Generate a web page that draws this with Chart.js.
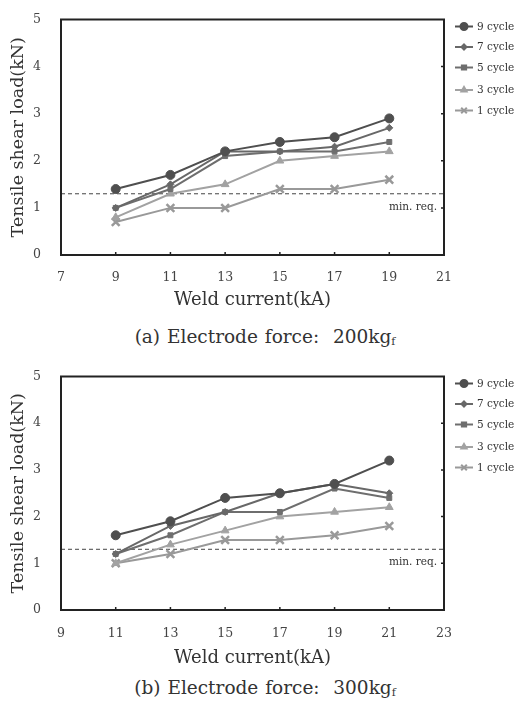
<!DOCTYPE html>
<html>
<head>
<meta charset="utf-8">
<script src="https://cdn.jsdelivr.net/npm/chart.js@4.4.0/dist/chart.umd.min.js"></script>
<style>
  body { margin: 0; background: #fff; }
  #wrap { position: relative; width: 524px; height: 708px; overflow: hidden; }
  canvas { position: absolute; left: 0; }
  .caption {
    position: absolute; left: 0; width: 530px; text-align: center;
    font-family: "DejaVu Serif", serif; font-size: 18.5px; color: #333;
    line-height: 20px; white-space: nowrap; word-spacing: 1px;
  }
  .caption sub { font-size: 11px; vertical-align: -2px; }
</style>
</head>
<body>
<div id="wrap">
  <canvas id="chartA" width="524" height="315" style="top:0"></canvas>
  <div class="caption" style="top:327px">(a) Electrode force:&nbsp; 200kg<sub>f</sub></div>
  <canvas id="chartB" width="524" height="315" style="top:357px"></canvas>
  <div class="caption" style="top:678px">(b) Electrode force:&nbsp; 300kg<sub>f</sub></div>
</div>
<script>
// series labels
const cycles = ["9 cycle", "7 cycle", "5 cycle", "3 cycle", "1 cycle"];

// (a) electrode force 200kgf
const currentA = [9, 11, 13, 15, 17, 19];
const a9 = [1.4, 1.7, 2.2, 2.4, 2.5, 2.9];
const a7 = [1.0, 1.5, 2.2, 2.2, 2.3, 2.7];
const a5 = [1.0, 1.4, 2.1, 2.2, 2.2, 2.4];
const a3 = [0.8, 1.3, 1.5, 2.0, 2.1, 2.2];
const a1 = [0.7, 1.0, 1.0, 1.4, 1.4, 1.6];

// (b) electrode force 300kgf
const currentB = [11, 13, 15, 17, 19, 21];
const b9 = [1.6, 1.9, 2.4, 2.5, 2.7, 3.2];
const b7 = [1.2, 1.8, 2.1, 2.5, 2.7, 2.5];
const b5 = [1.2, 1.6, 2.1, 2.1, 2.6, 2.4];
const b3 = [1.0, 1.4, 1.7, 2.0, 2.1, 2.2];
const b1 = [1.0, 1.2, 1.5, 1.5, 1.6, 1.8];

const minReq = 1.3;
const xRangeA = [7, 21];
const xRangeB = [9, 23];
const yTicks = [0, 1, 2, 3, 4, 5];

const FONT = "'DejaVu Serif', serif";
Chart.defaults.font.family = FONT;
Chart.defaults.color = "#444";

const styles = [
  { color: "#4f4f4f", point: "circle", r: 4.5, lr: 3.5 },
  { color: "#686868", point: "rectRot", r: 3.5, lr: 2.5 },
  { color: "#6e6e6e", point: "rect", r: 3.5, lr: 3 },
  { color: "#a2a2a2", point: "triangle", r: 4.5, lr: 3 },
  { color: "#999999", point: "crossRot", r: 5.5, lr: 4 }
];

function toPoints(xs, ys) {
  return xs.map((x, i) => ({ x: x, y: ys[i] }));
}

// box, inward ticks, legend and "min. req." label
const decorPlugin = {
  id: "decor",
  afterDraw(chart) {
    const { ctx, chartArea: ca, scales } = chart;
    ctx.save();
    ctx.strokeStyle = "#222";
    ctx.lineWidth = 2;
    ctx.strokeRect(ca.left, ca.top, ca.right - ca.left, ca.bottom - ca.top);

    ctx.lineWidth = 1.5;
    ctx.beginPath();
    scales.x.ticks.forEach(t => {
      const px = scales.x.getPixelForValue(t.value);
      if (px <= ca.left + 2 || px >= ca.right - 2) return;
      ctx.moveTo(px, ca.bottom);
      ctx.lineTo(px, ca.bottom - 3);
    });
    scales.y.ticks.forEach(t => {
      const py = scales.y.getPixelForValue(t.value);
      if (py <= ca.top + 2 || py >= ca.bottom - 2) return;
      ctx.moveTo(ca.right, py);
      ctx.lineTo(ca.right - 3, py);
    });
    ctx.stroke();

    // min. req. label
    const yReq = scales.y.getPixelForValue(minReq);
    ctx.fillStyle = "#333";
    ctx.font = "10.5px " + FONT;
    ctx.textAlign = "right";
    ctx.textBaseline = "middle";
    ctx.fillText("min. req.", ca.right - 7, yReq + 13);

    // legend
    ctx.textAlign = "left";
    ctx.font = "10.5px " + FONT;
    cycles.forEach((name, i) => {
      const s = styles[i];
      const y = ca.top + 7 + i * 20.5 + (i >= 3 ? 2 : 0);
      const x0 = ca.right + 11, x1 = ca.right + 29;
      ctx.strokeStyle = s.color;
      ctx.fillStyle = s.color;
      ctx.lineWidth = 2;
      ctx.beginPath();
      ctx.moveTo(x0, y);
      ctx.lineTo(x1, y);
      ctx.stroke();
      Chart.helpers.drawPoint(ctx, { pointStyle: s.point, radius: s.lr, rotation: 0, borderWidth: 2 }, (x0 + x1) / 2, y);
      ctx.fillStyle = "#333";
      ctx.fillText(name, ca.right + 33, y + 0.5);
    });
    ctx.restore();
  }
};

function makeChart(id, xs, series, xRange, opt) {
  const datasets = series.map((ys, i) => ({
    label: cycles[i],
    data: toPoints(xs, ys),
    borderColor: styles[i].color,
    backgroundColor: styles[i].color,
    borderWidth: 2,
    pointStyle: styles[i].point,
    pointRadius: styles[i].r,
    pointBorderWidth: styles[i].point === "crossRot" ? 2.5 : 1,
    tension: 0
  }));
  datasets.push({
    label: "min. req.",
    data: [{ x: xRange[0], y: minReq }, { x: xRange[1], y: minReq }],
    borderColor: "#444",
    borderWidth: 1,
    borderDash: [4, 3],
    pointRadius: 0
  });

  return new Chart(document.getElementById(id), {
    type: "line",
    data: { datasets },
    options: {
      responsive: false,
      animation: false,
      events: [],
      layout: { padding: { left: 0, right: 80, top: 10, bottom: 0 } },
      plugins: { legend: { display: false }, tooltip: { enabled: false } },
      scales: {
        x: {
          type: "linear",
          min: xRange[0],
          max: xRange[1],
          afterBuildTicks: (scale) => {
            const t = [];
            for (let v = xRange[0]; v <= xRange[1]; v += 2) t.push({ value: v });
            scale.ticks = t;
          },
          afterFit: (scale) => { scale.height = opt.xHeight; },
          grid: { display: false },
          border: { display: false },
          ticks: { font: { size: 12.5 }, color: "#444", padding: opt.xTickPad },
          title: {
            display: true,
            text: "Weld current(kA)",
            font: { size: 18 },
            color: "#333",
            padding: { top: 0, bottom: opt.xTitlePad }
          }
        },
        y: {
          min: 0,
          max: 5,
          afterBuildTicks: (scale) => { scale.ticks = yTicks.map(v => ({ value: v })); },
          afterFit: (scale) => { scale.width = 61; },
          grid: { display: false },
          border: { display: false },
          ticks: { font: { size: 12.5 }, color: "#444", padding: 12 },
          title: {
            display: true,
            text: "Tensile shear load(kN)",
            font: { size: 17.5 },
            color: "#333",
            padding: { top: 7.5, bottom: 0 }
          }
        }
      }
    },
    plugins: [decorPlugin]
  });
}

makeChart("chartA", currentA, [a9, a7, a5, a3, a1], xRangeA, { xHeight: 60, xTickPad: 7, xTitlePad: 4.2 });
makeChart("chartB", currentB, [b9, b7, b5, b3, b1], xRangeB, { xHeight: 62, xTickPad: 8, xTitlePad: 3.2 });
</script>
</body>
</html>
